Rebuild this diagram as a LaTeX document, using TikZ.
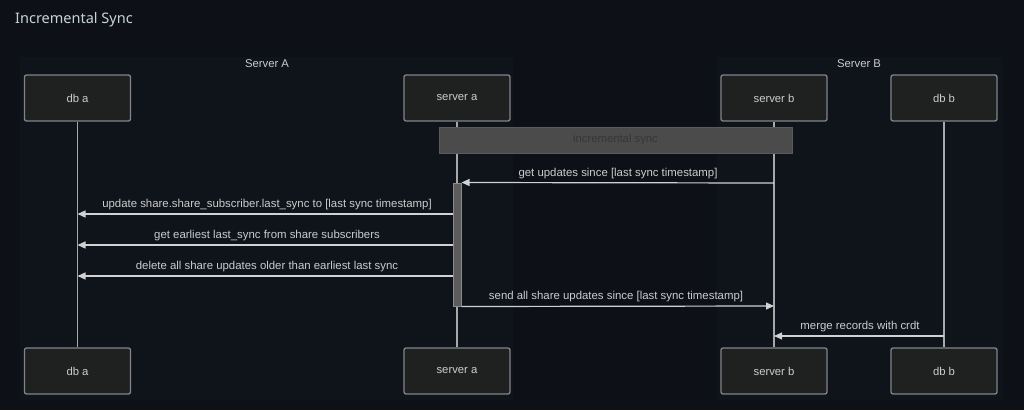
\documentclass[tikz,border=0pt]{standalone}
\usepackage{fontspec}
\setmainfont{Liberation Sans}
\newfontfamily\titlefont{Noto Sans}
\usetikzlibrary{arrows.meta}
\definecolor{bg}{HTML}{0D1117}
\definecolor{grp}{HTML}{0F131A}
\definecolor{pfill}{HTML}{1F2020}
\definecolor{pline}{HTML}{81848A}
\definecolor{lifec}{HTML}{A8A8A8}
\definecolor{txt}{HTML}{CCCCCC}
\definecolor{ttl}{HTML}{C9D1D9}
\definecolor{notefill}{HTML}{4B4B4B}
\definecolor{noteline}{HTML}{5A5A5A}
\definecolor{notetxt}{HTML}{363636}
\definecolor{actfill}{HTML}{5C5C5C}
\definecolor{actline}{HTML}{8A8A8A}
\tikzset{
  pbox/.style={draw=pline, line width=1.3pt, fill=pfill, rounded corners=2pt,
    minimum width=106pt, minimum height=46pt, text=txt, font=\fontsize{11.3}{13}\selectfont, inner sep=0pt},
  life/.style={draw=lifec, line width=1.3pt},
  msg/.style={draw=txt!90, line width=1.2pt, -{Triangle[length=8pt,width=7pt]}},
  mlabel/.style={text=txt, font=\fontsize{11.4}{13}\selectfont, inner sep=0pt},
  glabel/.style={text=txt, font=\fontsize{11.3}{13}\selectfont, inner sep=0pt},
}
\begin{document}
\begin{tikzpicture}[x=1pt,y=-1pt]
\useasboundingbox (0,0) rectangle (1024,410);
\fill[bg] (0,0) rectangle (1024,410);
% title
\node[anchor=west, text=ttl, font=\titlefont\fontsize{14.5}{16}\selectfont, inner sep=0pt] (title) at (15,20) {Incremental Sync};
% groups
\fill[grp] (20,57) rectangle (513,400);
\fill[grp] (717,57) rectangle (1002,400);
\node[glabel] (gA) at (267,64) {Server A};
\node[glabel] (gB) at (859,64) {Server B};
% participants top
\node[pbox] (dbaT) at (77.5,98) {db a};
\node[pbox] (saT) at (457,98) {server a};
\node[pbox] (sbT) at (774,98) {server b};
\node[pbox] (dbbT) at (944,98) {db b};
% participants bottom
\node[pbox] (dbaB) at (77.5,371) {db a};
\node[pbox] (saB) at (457,371) {server a};
\node[pbox] (sbB) at (774,371) {server b};
\node[pbox] (dbbB) at (944,371) {db b};
% lifelines
\draw[life] (dbaT.south) -- (dbaB.north);
\draw[life] (saT.south) -- (saB.north);
\draw[life] (sbT.south) -- (sbB.north);
\draw[life] (dbbT.south) -- (dbbB.north);
% note
\node[draw=noteline, line width=1pt, fill=notefill, minimum width=353pt, minimum height=26pt, inner sep=0pt,
  text=notetxt, font=\fontsize{11.3}{13}\selectfont] (note) at (615.5,140) {incremental sync};
% activation
\node[draw=actline, line width=1pt, fill=actfill, minimum width=8pt, minimum height=123pt, inner sep=0pt] (act) at (457,244.5) {};
% message anchors
\coordinate (m1s) at (774,183);
\coordinate (m1e) at (act.north east);
\coordinate (m2s) at (453,214);
\coordinate (m2e) at (77.5,214);
\coordinate (m3s) at (453,245);
\coordinate (m3e) at (77.5,245);
\coordinate (m4s) at (453,276);
\coordinate (m4e) at (77.5,276);
\coordinate (m5s) at (act.south east);
\coordinate (m5e) at (774,306);
\coordinate (m6s) at (944,336);
\coordinate (m6e) at (774,336);
% messages
\draw[msg] (m1s) -- (m1e);
\node[mlabel] (l1) at (618,174) {get updates since [last sync timestamp]};
\draw[msg] (m2s) -- (m2e);
\node[mlabel] (l2) at (267,204.5) {update share.share\_subscriber.last\_sync to [last sync timestamp]};
\draw[msg] (m3s) -- (m3e);
\node[mlabel] (l3) at (267,236) {get earliest last\_sync from share subscribers};
\draw[msg] (m4s) -- (m4e);
\node[mlabel] (l4) at (267,267) {delete all share updates older than earliest last sync};
\draw[msg] (m5s) -- (m5e);
\node[mlabel] (l5) at (616,297) {send all share updates since [last sync timestamp]};
\draw[msg] (m6s) -- (m6e);
\node[mlabel] (l6) at (860,326.5) {merge records with crdt};
\end{tikzpicture}
\end{document}
